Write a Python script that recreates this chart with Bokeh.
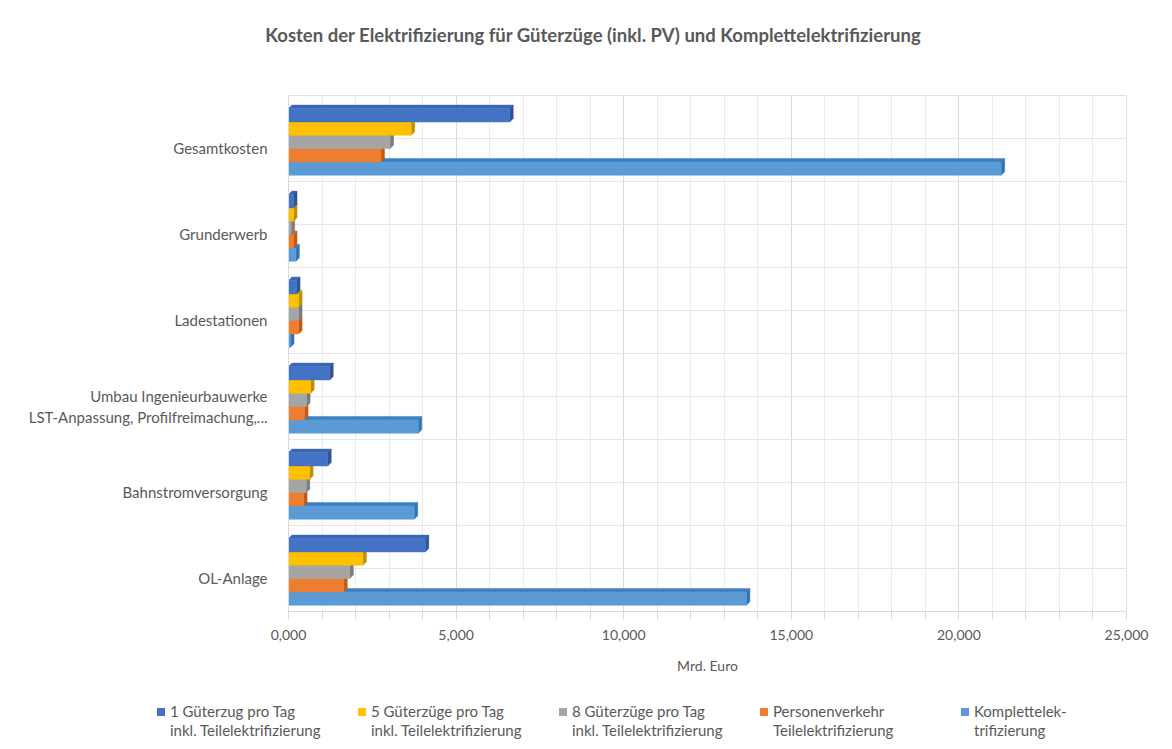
import numpy as np
from bokeh.plotting import figure
from bokeh.layouts import column
from bokeh.models import FixedTicker, Range1d, Div
from bokeh.embed import file_html
from bokeh.resources import INLINE

# ---------------- data (Mrd. Euro) ----------------
title_text = "Kosten der Elektrifizierung für Güterzüge (inkl. PV) und Komplettelektrifizierung"
categories = [
    "OL-Anlage",
    "Bahnstromversorgung",
    "Umbau Ingenieurbauwerke\nLST-Anpassung, Profilfreimachung,...",
    "Ladestationen",
    "Grunderwerb",
    "Gesamtkosten",
]
series_names = [
    "1 Güterzug pro Tag\ninkl. Teilelektrifizierung",
    "5 Güterzüge pro Tag\ninkl. Teilelektrifizierung",
    "8 Güterzüge pro Tag\ninkl. Teilelektrifizierung",
    "Personenverkehr\nTeilelektrifizierung",
    "Komplettelek-\ntrifizierung",
]
gz1 = [4.08, 1.17, 1.23, 0.24, 0.15, 6.60]
gz5 = [2.22, 0.63, 0.66, 0.30, 0.15, 3.66]
gz8 = [1.83, 0.53, 0.54, 0.30, 0.08, 3.03]
pv = [1.65, 0.45, 0.48, 0.30, 0.15, 2.76]
komplett = [13.66, 3.75, 3.87, 0.06, 0.22, 21.26]
x_ticks = [0, 5, 10, 15, 20, 25]
x_tick_labels = ["0,000", "5,000", "10,000", "15,000", "20,000", "25,000"]

series_values = [gz1, gz5, gz8, pv, komplett]
front_colors = ["#4472C4", "#FFC000", "#A5A5A5", "#ED7D31", "#5B9BD5"]
side_colors = ["#2F5597", "#BF9000", "#7B7B7B", "#C55A11", "#2E75B6"]
top_colors = ["#3A66B8", "#E0A800", "#949494", "#D46A22", "#3F7FBF"]
text_color = "#595959"
FONT = "Lato"

# ---------------- layout (pixels) ----------------
total_w = 1166
title_h = 60
left_b, right_b = 288, 40
frame_w = total_w - left_b - right_b
frame_h = 516
main_top, main_bottom = 35, 80
legend_h = 58

# ---------------- title ----------------
title_div = Div(
    text=f'<div style="position:absolute; left:0; top:22px; width:{total_w + 20}px; '
         f'text-align:center; font-family:{FONT}; font-size:18.5px; font-weight:bold; '
         f'color:{text_color}; white-space:nowrap;">{title_text}</div>',
    width=total_w, height=title_h, margin=0)

# ---------------- main chart ----------------
x_max = 25
shift = 0.116          # band centre lies a little above the label
y0, y1 = -0.5 + shift, len(categories) - 0.5 + shift

p = figure(frame_width=frame_w, frame_height=frame_h, output_backend="svg", toolbar_location=None,
           x_range=Range1d(0, x_max), y_range=Range1d(y0, y1),
           min_border_left=left_b, min_border_right=right_b,
           min_border_top=main_top, min_border_bottom=main_bottom)
p.outline_line_color = "#E0E0E0"

p.xaxis.ticker = FixedTicker(ticks=x_ticks, minor_ticks=list(range(0, x_max + 1)))
p.xgrid.grid_line_color = "#D9D9D9"
p.xgrid.minor_grid_line_color = "#EBEBEB"
p.ygrid.ticker = FixedTicker(ticks=[k / 2 - 0.5 + shift for k in range(2 * len(categories) + 1)])
p.ygrid.grid_line_color = "#E6E6E6"

p.xaxis.major_label_overrides = {t: l for t, l in zip(x_ticks, x_tick_labels)}
p.xaxis.axis_line_color = "#D9D9D9"
p.xaxis.major_tick_line_color = "#D9D9D9"
p.xaxis.minor_tick_line_color = "#D9D9D9"
p.xaxis.major_tick_out = 8
p.xaxis.minor_tick_out = 8
p.xaxis.major_tick_in = 0
p.xaxis.minor_tick_in = 0
p.xaxis.major_label_standoff = 10
p.xaxis.major_label_text_font = FONT
p.xaxis.major_label_text_font_size = "14px"
p.xaxis.major_label_text_color = text_color
p.xaxis.axis_label = "Mrd. Euro"
p.xaxis.axis_label_text_font = FONT
p.xaxis.axis_label_text_font_style = "normal"
p.xaxis.axis_label_text_font_size = "14px"
p.xaxis.axis_label_text_color = text_color
p.xaxis.axis_label_standoff = 14

cat_pos = list(range(len(categories)))
p.yaxis.ticker = FixedTicker(ticks=cat_pos)
p.yaxis.major_label_overrides = {i: c for i, c in zip(cat_pos, categories)}
p.yaxis.axis_line_color = "#D9D9D9"
p.yaxis.major_tick_line_color = None
p.yaxis.minor_tick_line_color = None
p.yaxis.major_label_standoff = 15
p.yaxis.major_label_text_font = FONT
p.yaxis.major_label_text_font_size = "15px"
p.yaxis.major_label_text_color = text_color

# 3D-ish bars: top face, side face, front face
h = 0.155
bar_shift = shift - 0.04
depth_px = 3.5
dx = depth_px * x_max / frame_w
dy = depth_px * (y1 - y0) / frame_h

n = len(series_values)
for j in reversed(range(n)):
    vals = np.array(series_values[j])
    yc = np.array(cat_pos) + (2 - j) * h + bar_shift
    yb, yt = yc - h / 2, yc + h / 2
    xs_top = [[0, dx, v + dx, v] for v in vals]
    ys_top = [[t, t + dy, t + dy, t] for t in yt]
    p.patches(xs_top, ys_top, fill_color=top_colors[j], line_color=top_colors[j], line_width=0.5)
    xs_side = [[v, v + dx, v + dx, v] for v in vals]
    ys_side = [[b, b + dy, t + dy, t] for b, t in zip(yb, yt)]
    p.patches(xs_side, ys_side, fill_color=side_colors[j], line_color=side_colors[j], line_width=0.5)
    p.hbar(y=yc, left=0, right=vals, height=h, fill_color=front_colors[j],
           line_color=front_colors[j], line_width=0.5)

# ---------------- legend ----------------
leg_x0, leg_step = 157, 201
items = []
for k, (name, col) in enumerate(zip(series_names, front_colors)):
    lx = leg_x0 + k * leg_step
    items.append(
        f'<div style="position:absolute; left:{lx}px; top:17px; width:8px; height:8px; '
        f'background:{col};"></div>'
        f'<div style="position:absolute; left:{lx + 13}px; top:11px; font-family:{FONT}; '
        f'font-size:15px; line-height:19px; color:{text_color}; white-space:nowrap;">'
        f'{name.replace(chr(10), "<br>")}</div>'
    )
legend_div = Div(text='<div style="position:relative; width:%dpx; height:%dpx;">%s</div>'
                 % (total_w, legend_h, "".join(items)),
                 width=total_w, height=legend_h, margin=0)

layout = column(title_div, p, legend_div, spacing=0)
open("out.html", "w").write(file_html(layout, INLINE))
